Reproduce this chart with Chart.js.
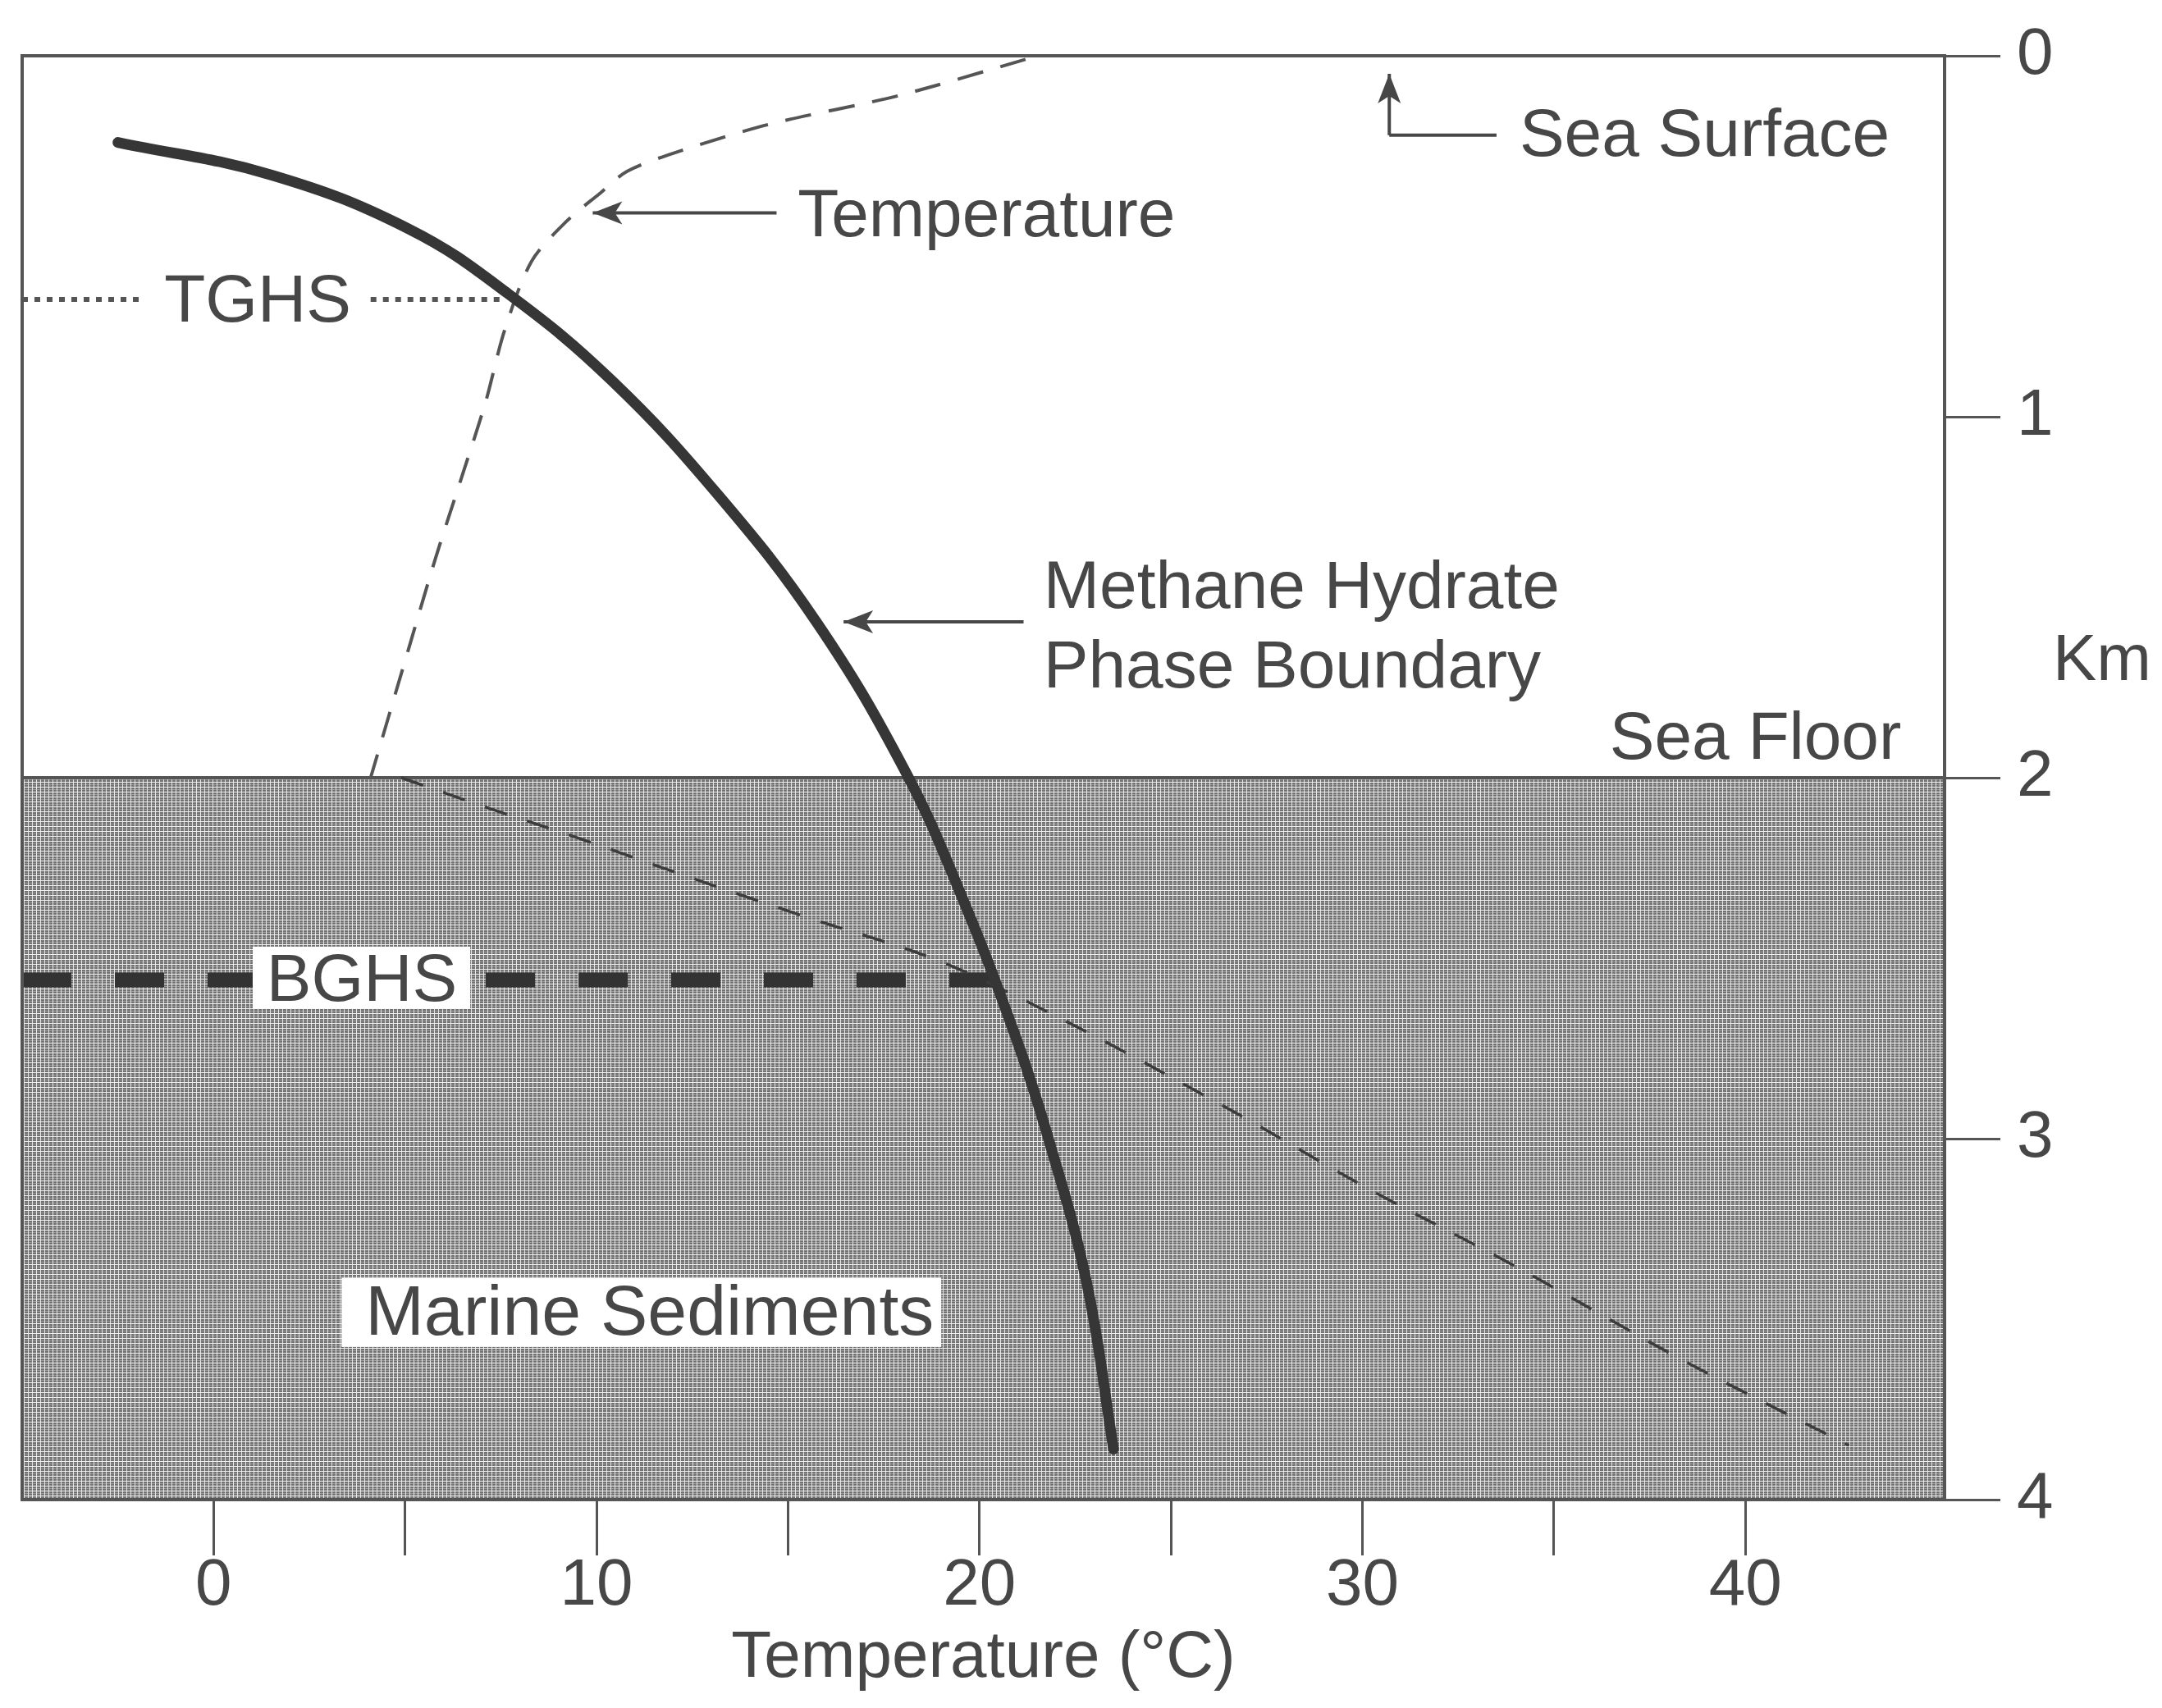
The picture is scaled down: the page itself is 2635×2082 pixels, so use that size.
<!DOCTYPE html>
<html>
<head>
<meta charset="utf-8">
<script src="https://cdn.jsdelivr.net/npm/chart.js@4.4.1/dist/chart.umd.min.js"></script>
<style>
  html, body { margin: 0; padding: 0; background: #fff; }
  canvas { display: block; }
</style>
</head>
<body>
<canvas id="chart" width="2635" height="2082"></canvas>
<script>
// methane hydrate phase boundary (temperature in C, depth in km)
const phaseTemp = [-2.5, 1.5, 5.1, 7.7, 10.4, 13.2, 15.75, 18.05, 19.5, 20.95, 21.8, 22.8, 23.5];
const phaseDepth = [0.24, 0.33, 0.48, 0.66, 0.90, 1.22, 1.57, 1.98, 2.32, 2.72, 3.00, 3.40, 3.86];

// temperature profile in the water column
const waterTemp = [21.2, 17.9, 14.5, 12.0, 10.8, 10.1, 9.2, 8.3, 7.6, 7.1, 6.5, 5.8, 5.1, 4.1];
const waterDepth = [0.01, 0.11, 0.19, 0.27, 0.32, 0.38, 0.46, 0.57, 0.76, 0.96, 1.16, 1.39, 1.64, 2.0];

// temperature profile in the sediments
const sedTemp = [4.9, 7.2, 9.6, 12.0, 15.3, 19.0, 21.8, 26.8, 30.0, 34.1, 38.3, 42.7];
const sedDepth = [2.0, 2.085, 2.17, 2.26, 2.38, 2.51, 2.65, 2.935, 3.13, 3.36, 3.61, 3.85];

const seaFloor = 2;
const sedBottom = 4;
const tghsDepth = 0.675;
const tghsSpans = [[-5, -1.9], [4.1, 7.5]];
const bghsDepth = 2.56;
const bghsSpan = [-5, 20.4];

const xRange = [-5, 45.2];
const yRange = [0, 4];
const xTicks = [0, 5, 10, 15, 20, 25, 30, 35, 40];
const xTickLabels = ['0', '', '10', '', '20', '', '30', '', '40'];
const yTicks = [0, 1, 2, 3, 4];

const ink = '#474747';
const fontName = "'Liberation Sans', Arial, sans-serif";

const pts = (xs, ys) => xs.map((x, i) => ({ x: x, y: ys[i] }));

// texture for the sediment block
function sedimentPattern() {
  const c = document.createElement('canvas');
  c.width = 5; c.height = 6;
  const g = c.getContext('2d');
  g.fillStyle = '#727272'; g.fillRect(0, 0, 5, 6);
  g.fillStyle = '#9a9a9a'; g.fillRect(0, 2, 5, 1);
  g.fillStyle = '#e6e6e6'; g.fillRect(4, 0, 1, 6);
  g.fillStyle = '#f0f0f0'; g.fillRect(0, 5, 5, 1);
  return g.createPattern(c, 'repeat');
}

const tghsData = [];
tghsSpans.forEach((s, i) => {
  if (i > 0) tghsData.push({ x: s[0], y: null });
  tghsData.push({ x: s[0], y: tghsDepth }, { x: s[1], y: tghsDepth });
});

function arrow(ctx, x1, y1, x2, y2) {
  ctx.beginPath();
  ctx.moveTo(x1, y1); ctx.lineTo(x2, y2);
  ctx.stroke();
  const a = Math.atan2(y2 - y1, x2 - x1);
  ctx.beginPath();
  ctx.moveTo(x2, y2);
  ctx.lineTo(x2 - 36 * Math.cos(a) + 14 * Math.sin(a), y2 - 36 * Math.sin(a) - 14 * Math.cos(a));
  ctx.lineTo(x2 - 27 * Math.cos(a), y2 - 27 * Math.sin(a));
  ctx.lineTo(x2 - 36 * Math.cos(a) - 14 * Math.sin(a), y2 - 36 * Math.sin(a) + 14 * Math.cos(a));
  ctx.closePath();
  ctx.fill();
}

const notes = {
  id: 'notes',
  afterDatasetsDraw(chart) {
    const ctx = chart.ctx;
    const xs = chart.scales.x, ys = chart.scales.y;
    const X = v => xs.getPixelForValue(v), Y = v => ys.getPixelForValue(v);
    const area = chart.chartArea;
    ctx.save();
    ctx.fillStyle = ink;
    ctx.strokeStyle = ink;
    ctx.lineWidth = 4;
    ctx.font = '82px ' + fontName;
    ctx.textBaseline = 'alphabetic';

    // Sea Surface
    ctx.beginPath();
    ctx.moveTo(X(33.5), Y(0.22)); ctx.lineTo(X(30.7), Y(0.22));
    ctx.stroke();
    arrow(ctx, X(30.7), Y(0.22), X(30.7), Y(0.05));
    ctx.textAlign = 'left';
    ctx.fillText('Sea Surface', X(34.1), Y(0.278));

    // Temperature
    arrow(ctx, X(14.7), Y(0.435), X(9.9), Y(0.435));
    ctx.fillText('Temperature', X(15.25), Y(0.50));

    // Methane Hydrate Phase Boundary
    arrow(ctx, X(21.15), Y(1.568), X(16.45), Y(1.568));
    ctx.fillText('Methane Hydrate', X(21.67), Y(1.53));
    ctx.fillText('Phase Boundary', X(21.67), Y(1.75));

    // Sea Floor
    ctx.textAlign = 'right';
    ctx.fillText('Sea Floor', X(44.07), Y(1.948));

    // TGHS
    ctx.textAlign = 'center';
    ctx.fillText('TGHS', X(1.15), Y(0.737));

    // BGHS with white box
    ctx.fillStyle = '#fff';
    ctx.fillRect(X(1.02), Y(2.468), X(6.7) - X(1.02), Y(2.64) - Y(2.468));
    ctx.fillStyle = ink;
    ctx.fillText('BGHS', X(3.87), Y(2.619));

    // Marine Sediments with white box
    ctx.fillStyle = '#fff';
    ctx.fillRect(X(3.34), Y(3.385), X(19.0) - X(3.34), Y(3.577) - Y(3.385));
    ctx.fillStyle = ink;
    ctx.textAlign = 'left';
    ctx.font = '86px ' + fontName;
    ctx.fillText('Marine Sediments', X(3.96), Y(3.543));

    // Km
    ctx.font = '80px ' + fontName;
    ctx.textAlign = 'center';
    ctx.textBaseline = 'middle';
    ctx.fillText('Km', area.right + 192, Y(1.68));

    // frame
    ctx.strokeStyle = '#555';
    ctx.lineWidth = 4;
    ctx.strokeRect(area.left, area.top, area.right - area.left, area.bottom - area.top);
    ctx.restore();
  }
};

new Chart(document.getElementById('chart'), {
  type: 'line',
  data: {
    datasets: [
      {
        label: 'Phase Boundary',
        data: pts(phaseTemp, phaseDepth),
        borderColor: '#363636',
        borderWidth: 13,
        borderCapStyle: 'round',
        borderJoinStyle: 'round',
        tension: 0.4,
        order: 1
      },
      {
        label: 'Temperature (water)',
        data: pts(waterTemp, waterDepth),
        borderColor: '#555',
        borderWidth: 4,
        borderDash: [32, 22],
        tension: 0.3,
        order: 2
      },
      {
        label: 'Temperature (sediment)',
        data: pts(sedTemp, sedDepth),
        borderColor: '#3c3c3c',
        borderWidth: 3.5,
        borderDash: [28, 26],
        cubicInterpolationMode: 'monotone',
        order: 2
      },
      {
        label: 'TGHS',
        data: tghsData,
        borderColor: '#555',
        borderWidth: 6,
        borderDash: [7, 8],
        spanGaps: false,
        order: 3
      },
      {
        label: 'BGHS',
        data: [{ x: bghsSpan[0], y: bghsDepth }, { x: bghsSpan[1], y: bghsDepth }],
        borderColor: '#333',
        borderWidth: 18,
        borderDash: [60, 53],
        order: 3
      },
      {
        label: 'Marine Sediments',
        data: [{ x: xRange[0], y: seaFloor }, { x: xRange[1], y: seaFloor }],
        borderColor: '#555',
        borderWidth: 4,
        backgroundColor: sedimentPattern(),
        fill: { value: sedBottom },
        order: 10
      }
    ]
  },
  options: {
    responsive: false,
    devicePixelRatio: 1,
    animation: false,
    layout: { padding: { left: 27, top: 59, right: 0, bottom: 0 } },
    elements: { point: { radius: 0 } },
    plugins: { legend: { display: false }, tooltip: { enabled: false } },
    scales: {
      x: {
        type: 'linear',
        position: 'bottom',
        min: xRange[0],
        max: xRange[1],
        afterBuildTicks: s => { s.ticks = xTicks.map(v => ({ value: v })); },
        afterFit: s => { s.height = 254; },
        border: { display: false },
        grid: { drawOnChartArea: false, drawTicks: true, tickLength: 68, lineWidth: 3, color: '#555' },
        ticks: {
          autoSkip: false,
          maxRotation: 0,
          padding: -10,
          color: ink,
          font: { family: fontName, size: 80 },
          callback: v => xTickLabels[xTicks.indexOf(v)]
        },
        title: {
          display: true,
          text: 'Temperature (°C)',
          color: ink,
          font: { family: fontName, size: 80 },
          padding: { top: 0, bottom: 12 }
        }
      },
      y: {
        type: 'linear',
        position: 'right',
        reverse: true,
        min: yRange[0],
        max: yRange[1],
        afterBuildTicks: s => { s.ticks = yTicks.map(v => ({ value: v })); },
        afterFit: s => { s.width = 265; },
        border: { display: false },
        grid: { drawOnChartArea: false, drawTicks: true, tickLength: 68, lineWidth: 3, color: '#555' },
        ticks: {
          padding: 20,
          color: ink,
          font: { family: fontName, size: 80 }
        }
      }
    }
  },
  plugins: [notes]
});
</script>
</body>
</html>
